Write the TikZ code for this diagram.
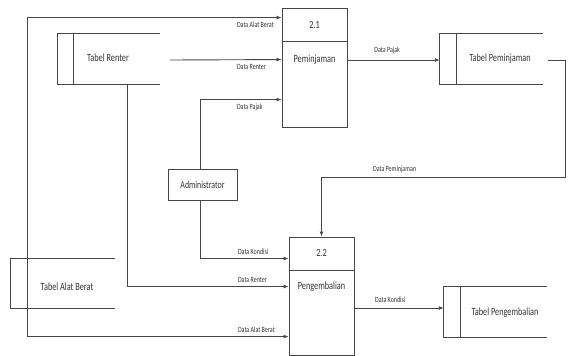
\documentclass[tikz,border=0pt]{standalone}
\usepackage{fontspec}
\setmainfont{Carlito}[FakeStretch=0.75]
\usetikzlibrary{arrows.meta,calc}
\definecolor{linec}{RGB}{70,70,70}
\definecolor{textc}{RGB}{50,50,50}
\begin{document}
\begin{tikzpicture}[x=1pt,y=-1pt,
  ln/.style={draw=linec, line width=0.9pt},
  flow/.style={ln, -{Latex[length=5pt,width=4pt]}},
  proc/.style={draw=linec, line width=0.9pt, minimum width=65pt, inner sep=0pt},
  store/.style={inner sep=0pt},
  ent/.style={draw=linec, line width=0.9pt, minimum width=69pt, minimum height=31pt, inner sep=0pt, text=textc, font=\fontsize{10.5}{12}\selectfont},
  txt/.style={font=\fontsize{11}{12}\selectfont, text=textc, inner sep=0pt},
  lbl/.style={font=\fontsize{8}{9}\selectfont, text=textc, inner sep=1pt}]
\useasboundingbox (0,0) rectangle (568,356);

% processes
\node[proc, minimum height=119pt] (p21) at (314.5,67.5) {};
\draw[ln] ($(p21.north west)+(0,34)$) -- ($(p21.north east)+(0,34)$);
\node[txt] (p21n) at ($(p21.north)+(0,17)$) {2.1};
\node[txt] (p21t) at ($(p21.north)+(0,52)$) {Peminjaman};

\node[proc, minimum height=118pt] (p22) at (321.5,296) {};
\draw[ln] ($(p22.north west)+(0,34)$) -- ($(p22.north east)+(0,34)$);
\node[txt] (p22n) at ($(p22.north)+(0,16)$) {2.2};
\node[txt] (p22t) at ($(p22.north)+(0,50)$) {Pengembalian};

% stores
\node[store, minimum width=102pt, minimum height=50pt] (ren) at (109,59) {};
\draw[ln] (ren.north east) -- (ren.north west) -- (ren.south west) -- (ren.south east);
\draw[ln] ($(ren.north west)+(16,0)$) -- ($(ren.south west)+(16,0)$);
\node[txt] (rent) at (108,58) {Tabel Renter};

\node[store, minimum width=103pt, minimum height=50pt] (pem) at (491.5,59) {};
\draw[ln] (pem.north east) -- (pem.north west) -- (pem.south west) -- (pem.south east);
\draw[ln] ($(pem.north west)+(17,0)$) -- ($(pem.south west)+(17,0)$);
\node[txt] (pemt) at (500,59) {Tabel Peminjaman};

\node[store, minimum width=103pt, minimum height=50pt] (peng) at (495.5,312) {};
\draw[ln] (peng.north east) -- (peng.north west) -- (peng.south west) -- (peng.south east);
\draw[ln] ($(peng.north west)+(17,0)$) -- ($(peng.south west)+(17,0)$);
\node[txt] (pengt) at (505,313) {Tabel Pengembalian};

\node[store, minimum width=104pt, minimum height=49pt] (alat) at (63,283.5) {};
\draw[ln] (alat.north east) -- (alat.north west) -- (alat.south west) -- (alat.south east);
\node[txt] (alatt) at (67,287) {Tabel Alat Berat};

% entity
\node[ent] (adm) at (202.5,184.5) {Administrator};

% connection points
\coordinate (ab) at ($(alat.west)+(17,0)$);
\coordinate (i1) at ($(p21.north west)+(0,10)$);
\coordinate (i2) at ($(p21.north west)+(0,52)$);
\coordinate (i3) at ($(p21.north west)+(0,92)$);
\coordinate (j1) at ($(p22.north west)+(0,22)$);
\coordinate (j2) at ($(p22.north west)+(0,50)$);
\coordinate (j3) at ($(p22.north west)+(0,100)$);
\coordinate (rs) at ($(ren.east)+(10,1)$);
\coordinate (rb) at ($(ren.south west)+(70,0)$);
\coordinate (pk) at ($(peng.west)+(0,-4)$);
\coordinate (pe) at ($(pem.east)+(5,1)$);

% flows into 2.1
\draw[flow] (ab) |- (i1) node[lbl, anchor=north west, xshift=-46pt, yshift=-3pt] {Data Alat Berat};
\draw[flow] (rs) -- (i2) node[lbl, anchor=north west, xshift=-46pt, yshift=-3pt] {Data Renter};
\draw[flow] ($(adm.north)+(-2.5,0)$) |- (i3) node[lbl, anchor=north west, xshift=-46pt, yshift=-3pt] {Data Pajak};

% flows into 2.2
\draw[flow] ($(adm.south)+(-2.5,0)$) |- (j1) node[lbl, anchor=south west, xshift=-52pt, yshift=3pt] {Data Kondisi};
\draw[flow] (rb) |- (j2) node[lbl, anchor=south west, xshift=-52pt, yshift=3pt] {Data Renter};
\draw[flow] (ab) |- (j3) node[lbl, anchor=south west, xshift=-52pt, yshift=3pt] {Data Alat Berat};

% other flows
\draw[flow] (p21.east |- pe) -- node[lbl, anchor=south, pos=0.43, yshift=5pt] {Data Pajak} (pem.west |- pe);
\draw[flow] (pe) -- ++(17,0) |- ($(p22.north)+(0,-59)$) node[lbl, anchor=south, pos=0.85, yshift=3pt] {Data Peminjaman} -- (p22.north);
\draw[flow] (p22.east |- pk) -- node[lbl, anchor=south, pos=0.4, yshift=4pt] {Data Kondisi} (pk);
\end{tikzpicture}
\end{document}
